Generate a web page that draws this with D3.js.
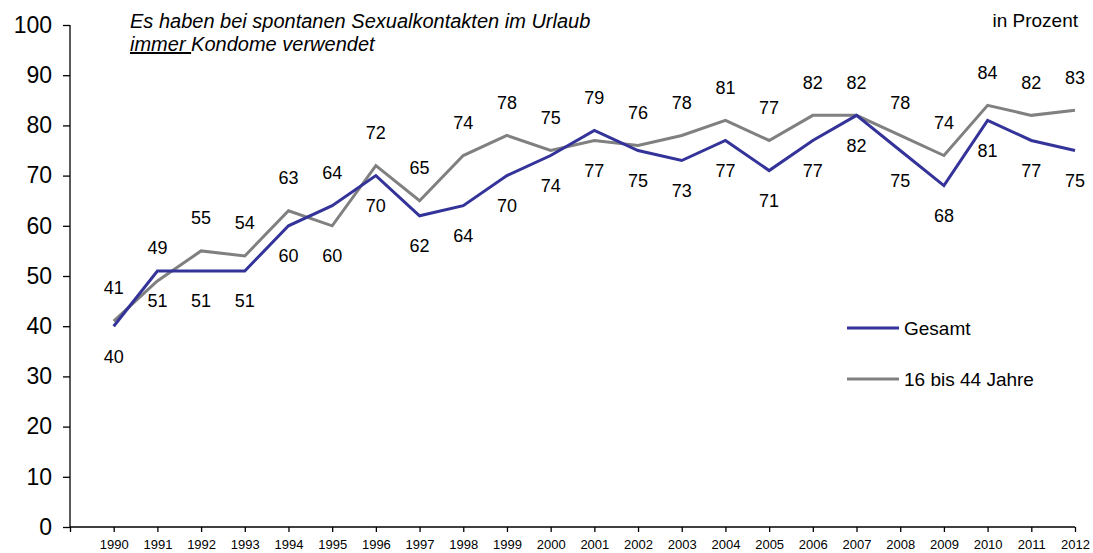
<!DOCTYPE html>
<html lang="de">
<head>
  <meta charset="UTF-8">
  <title>Kondomverwendung im Urlaub</title>
  <script src="https://d3js.org/d3.v7.min.js"></script>
  <style>
    body { margin: 0; background: #fff; font-family: "Liberation Sans", Arial, sans-serif; }
    svg { display: block; }
  </style>
</head>
<body>
  <svg width="1093" height="553"></svg>
  <script>
    const years = d3.range(1990, 2013);
    const gesamt = [40, 51, 51, 51, 60, 64, 70, 62, 64, 70, 74, 79, 75, 73, 77, 71, 77, 82, 75, 68, 81, 77, 75];
    const jung   = [41, 49, 55, 54, 63, 60, 72, 65, 74, 78, 75, 77, 76, 78, 81, 77, 82, 82, 78, 74, 84, 82, 83];
    const yTicks = d3.range(0, 101, 10);
    // years where the Gesamt label sits above the grey one
    const gesamtOben = [1995, 2001];

    const svg = d3.select("svg");
    const x = d3.scaleLinear().domain([1989, 2012]).range([70, 1075]);
    const y = d3.scaleLinear().domain([0, 100]).range([527, 25]);

    // y axis
    const yAxis = svg.append("g")
      .attr("transform", "translate(70,0)")
      .call(d3.axisLeft(y).tickValues(yTicks).tickSize(7).tickPadding(11));
    yAxis.selectAll("text").attr("font-size", 23).attr("fill", "#000")
      .attr("font-family", "Liberation Sans, Arial, sans-serif");
    yAxis.selectAll("line, path").attr("stroke", "#000").attr("stroke-width", 1.3);
    yAxis.select("path").attr("d", "M0,25V527");

    // x axis
    const xAxis = svg.append("g")
      .attr("transform", "translate(0,527)")
      .call(d3.axisBottom(x).tickValues(d3.range(1989, 2013)).tickSize(5).tickPadding(8)
        .tickFormat(d => d === 1989 ? "" : d));
    xAxis.selectAll("text").attr("font-size", 13).attr("fill", "#000")
      .attr("font-family", "Liberation Sans, Arial, sans-serif");
    xAxis.selectAll("line, path").attr("stroke", "#000").attr("stroke-width", 1.3);
    xAxis.select("path").attr("d", "M70,0H1075");

    const series = [
      { name: "16 bis 44 Jahre", values: jung, color: "#808080" },
      { name: "Gesamt", values: gesamt, color: "#333399" }
    ];

    const line = d3.line().x((d, i) => x(years[i])).y(d => y(d));
    series.forEach(s => {
      svg.append("path")
        .datum(s.values)
        .attr("fill", "none")
        .attr("stroke", s.color)
        .attr("stroke-width", 3)
        .attr("d", line);
    });

    // data labels
    const labels = svg.append("g")
      .attr("font-size", 18)
      .attr("text-anchor", "middle")
      .attr("fill", "#000");
    years.forEach((yr, i) => {
      const blueUp = gesamtOben.includes(yr);
      labels.append("text")
        .attr("x", x(yr))
        .attr("y", y(gesamt[i]) + (blueUp ? -33 : 30))
        .attr("dy", "0.35em")
        .text(gesamt[i]);
      labels.append("text")
        .attr("x", x(yr))
        .attr("y", y(jung[i]) + (blueUp ? 30 : -33))
        .attr("dy", "0.35em")
        .text(jung[i]);
    });

    // legend
    const legend = svg.append("g");
    [series[1], series[0]].forEach((s, i) => {
      const ly = 328 + i * 51;
      legend.append("line")
        .attr("x1", 847).attr("x2", 899)
        .attr("y1", ly).attr("y2", ly)
        .attr("stroke", s.color).attr("stroke-width", 3);
      legend.append("text")
        .attr("x", 904).attr("y", ly)
        .attr("dy", "0.35em")
        .attr("font-size", 19)
        .text(s.name);
    });

    // titles
    const t = svg.append("text")
      .attr("x", 130).attr("y", 28)
      .attr("font-size", 20)
      .attr("font-style", "italic")
      .attr("fill", "#000");
    t.append("tspan").text("Es haben bei spontanen Sexualkontakten im Urlaub");
    t.append("tspan").attr("x", 130).attr("dy", 23)
      .attr("text-decoration", "underline").text("immer ");
    t.append("tspan").text("Kondome verwendet");

    svg.append("text")
      .attr("x", 1078).attr("y", 27)
      .attr("text-anchor", "end")
      .attr("font-size", 19)
      .attr("fill", "#000")
      .text("in Prozent");
  </script>
</body>
</html>
